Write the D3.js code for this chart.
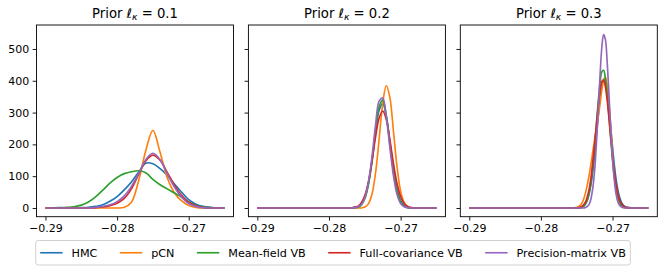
<!DOCTYPE html>
<html>
<head>
<meta charset="utf-8">
<script src="https://cdn.jsdelivr.net/npm/d3@7"></script>
<style>
	body { margin: 0; background: #fff; }
	svg { font-family: "DejaVu Sans", sans-serif; }
</style>
</head>
<body>
<script>
"use strict"

// ---- data ----
const seriesNames = ['HMC', 'pCN', 'Mean-field VB', 'Full-covariance VB', 'Precision-matrix VB'];
const seriesColors = ['#1f77b4', '#ff7f0e', '#2ca02c', '#d62728', '#9467bd'];
const priorLengths = ['0.1', '0.2', '0.3'];
const xTicks = [-0.29, -0.28, -0.27];
const yTicks = [0, 100, 200, 300, 400, 500];

// panel 1 (prior 0.1)
const gridP1 = [-0.29, -0.288, -0.287, -0.286, -0.285, -0.284, -0.283, -0.282, -0.281, -0.28, -0.279, -0.278, -0.277,
	-0.276, -0.275, -0.274, -0.273, -0.272, -0.271, -0.27, -0.269, -0.268, -0.267, -0.266, -0.265];
const hmcP1 = [0, 0, 0, 0, 1, 2, 5, 10, 21, 36, 57, 82, 112, 141, 139, 124, 103, 75, 50, 26, 12, 5, 2, 0, 0];
const pcnP1 = [0, 0, 0, 0, 0, 0, 0, 0, 0, 0, 2, 18, 85, 180, 244, 175, 95, 48, 22, 8, 2, 0, 0, 0, 0];
const mfP1 = [0, 1, 2, 4, 9, 19, 35, 56, 78, 96, 108, 114, 117, 111, 90, 73, 60, 47, 34, 19, 8, 3, 1, 0, 0];
const fcP1 = [0, 0, 0, 0, 0, 0, 1, 3, 7, 15, 30, 60, 105, 148, 166, 150, 112, 72, 40, 18, 7, 2, 0, 0, 0];
const pmP1 = [0, 0, 0, 0, 0, 0, 2, 5, 10, 20, 38, 68, 108, 152, 172, 152, 108, 66, 34, 14, 5, 1, 0, 0, 0];

// panel 2 (prior 0.2)
const gridP2 = [-0.29, -0.2775, -0.277, -0.2765, -0.276, -0.2755, -0.275, -0.2745, -0.274, -0.2735, -0.273, -0.2725,
	-0.272, -0.2715, -0.271, -0.2705, -0.27, -0.2695, -0.269, -0.2685, -0.268, -0.2675, -0.265];
const hmcP2 = [0, 0, 0, 1, 3, 11, 32, 77, 147, 236, 307, 329, 288, 208, 122, 58, 23, 8, 2, 0, 0, 0, 0];
const pcnP2 = [0, 0, 0, 0, 0, 0, 3, 13, 43, 110, 217, 329, 385, 347, 241, 129, 53, 17, 4, 1, 0, 0, 0];
const mfP2 = [0, 0, 0, 1, 2, 9, 29, 72, 146, 241, 318, 339, 291, 202, 114, 52, 19, 5, 1, 0, 0, 0, 0];
const fcP2 = [0, 0, 0, 2, 5, 16, 39, 82, 148, 223, 283, 305, 278, 214, 140, 77, 36, 14, 5, 1, 0, 0, 0];
const pmP2 = [0, 0, 0, 1, 3, 10, 32, 80, 161, 261, 336, 346, 286, 190, 101, 42, 14, 4, 1, 0, 0, 0, 0];

// panel 3 (prior 0.3)
const gridP3 = [-0.29, -0.277, -0.2755, -0.27525, -0.275, -0.27475, -0.2745, -0.27425, -0.274, -0.27375, -0.2735,
	-0.27325, -0.273, -0.27275, -0.2725, -0.27225, -0.272, -0.27175, -0.2715, -0.27125, -0.271, -0.27075, -0.2705,
	-0.27025, -0.27, -0.26975, -0.2695, -0.26925, -0.269, -0.26875, -0.2685, -0.26825, -0.268, -0.267, -0.265];
const hmcP3 = [0, 0, 0, 0, 0, 1, 1, 3, 7, 14, 26, 46, 75, 116, 167, 228, 289, 346, 386, 405, 397, 364, 315, 253, 192,
	135, 90, 56, 33, 18, 9, 4, 2, 0, 0];
const pcnP3 = [0, 0, 0, 1, 2, 4, 8, 16, 30, 50, 75, 105, 140, 178, 215, 248, 285, 325, 370, 400, 412, 385, 330, 255,
	170, 105, 60, 32, 15, 7, 3, 1, 0, 0, 0];
const mfP3 = [0, 0, 0, 0, 0, 0, 1, 3, 6, 14, 27, 49, 83, 133, 194, 264, 333, 392, 428, 433, 408, 357, 290, 217, 152,
	99, 60, 34, 18, 9, 4, 2, 1, 0, 0];
const fcP3 = [0, 0, 0, 0, 0, 1, 2, 5, 11, 20, 37, 61, 97, 145, 201, 262, 320, 369, 397, 402, 381, 339, 283, 222, 164,
	112, 73, 44, 25, 13, 7, 3, 1, 0, 0];
const pmP3 = [0, 0, 0, 0, 0, 0, 0, 0, 0, 2, 5, 12, 30, 63, 118, 202, 305, 413, 503, 545, 530, 460, 358, 250, 155, 87,
	43, 19, 8, 3, 1, 0, 0, 0, 0];

const panels = [
	{ grid: gridP1, series: [hmcP1, pcnP1, mfP1, fcP1, pmP1] },
	{ grid: gridP2, series: [hmcP2, pcnP2, mfP2, fcP2, pmP2] },
	{ grid: gridP3, series: [hmcP3, pcnP3, mfP3, fcP3, pmP3] }
];

// ---- layout ----
const w = 665;
const h = 270;
const marginLeft = 36.5;
const marginTop = 25;
const panelW = 197;
const panelH = 191.7;
const gap = 14.9;
const fontSize = 11;
const legendFont = 11.2;

const mySvg = d3.select('body')
	.append('svg')
	.attr('width', w)
	.attr('height', h);

const xScale = d3.scaleLinear()
	.domain([-0.29125, -0.26375])
	.range([0, panelW]);

const yScale = d3.scaleLinear()
	.domain([-27.4, 575.4])
	.range([panelH, 0]);

const line = d3.line()
	.x((d) => xScale(d[0]))
	.y((d) => yScale(d[1]))
	.curve(d3.curveCatmullRom.alpha(0.5));

panels.forEach((p, i) => drawPanel(p, i));
drawLegend();

function drawPanel(p, i) {
	const g = mySvg.append('g')
		.attr('transform', 'translate(' + (marginLeft + i * (panelW + gap)) + ', ' + marginTop + ')');

	const xAxis = d3.axisBottom(xScale)
		.tickValues(xTicks)
		.tickFormat(d3.format('.2f'))
		.tickSize(3.85)
		.tickPadding(3.3);

	const yAxis = d3.axisLeft(yScale)
		.tickValues(yTicks)
		.tickSize(3.85)
		.tickPadding(3.5)
		.tickFormat(i === 0 ? d3.format('d') : () => '');

	g.append('g')
		.attr('transform', 'translate(0, ' + panelH + ')')
		.call(xAxis);

	g.append('g')
		.call(yAxis);

	g.selectAll('.domain').remove();
	g.selectAll('.tick line').attr('stroke', '#000').attr('stroke-width', 0.9);
	g.selectAll('.tick text')
		.attr('fill', '#000')
		.style('font-size', fontSize + 'px')
		.style('font-family', '"DejaVu Sans", sans-serif');

	g.selectAll('path.curve')
		.data(p.series)
		.enter()
		.append('path')
		.attr('class', 'curve')
		.attr('d', (vals) => line(p.grid.map((x, k) => [x, vals[k]])))
		.attr('fill', 'none')
		.attr('stroke', (d, k) => seriesColors[k])
		.attr('stroke-width', 1.65)
		.attr('stroke-linejoin', 'round');

	g.append('rect')
		.attr('width', panelW)
		.attr('height', panelH)
		.attr('fill', 'none')
		.attr('stroke', '#000')
		.attr('stroke-width', 0.9);

	// title: Prior ℓ_κ = value
	const title = g.append('text')
		.attr('x', panelW / 2)
		.attr('y', -7.5)
		.attr('text-anchor', 'middle')
		.style('font-size', '13.2px')
		.attr('fill', '#000');
	title.append('tspan').text('Prior ');
	title.append('tspan').style('font-style', 'italic').text('ℓ');
	title.append('tspan')
		.style('font-style', 'italic')
		.style('font-size', '9.2px')
		.attr('dy', 2.6)
		.text('κ');
	title.append('tspan')
		.attr('dy', -2.6)
		.text(' = ' + priorLengths[i]);
}

function drawLegend() {
	const handleLen = 2 * legendFont;
	const handlePad = 0.8 * legendFont;
	const colSpace = 2 * legendFont;
	const borderPad = 0.4 * legendFont;
	const boxTop = 240.5;
	const boxH = 24.5;
	const midY = boxTop + boxH / 2;

	const lg = mySvg.append('g');
	const box = lg.append('rect');

	// measure labels first
	const labels = lg.selectAll('text')
		.data(seriesNames)
		.enter()
		.append('text')
		.style('font-size', legendFont + 'px')
		.attr('fill', '#000')
		.text((d) => d);

	const widths = [];
	labels.each(function () { widths.push(this.getComputedTextLength()); });

	const total = d3.sum(widths) + seriesNames.length * (handleLen + handlePad)
		+ (seriesNames.length - 1) * colSpace + 2 * borderPad;
	const x0 = w / 2 - total / 2 + 0.5;

	let cx = x0 + borderPad;
	seriesNames.forEach((name, k) => {
		lg.append('line')
			.attr('x1', cx)
			.attr('x2', cx + handleLen)
			.attr('y1', midY)
			.attr('y2', midY)
			.attr('stroke', seriesColors[k])
			.attr('stroke-width', 1.65);
		d3.select(labels.nodes()[k])
			.attr('x', cx + handleLen + handlePad)
			.attr('y', midY + 4);
		cx += handleLen + handlePad + widths[k] + colSpace;
	});

	box.attr('x', x0)
		.attr('y', boxTop)
		.attr('width', total)
		.attr('height', boxH)
		.attr('rx', 2.5)
		.attr('fill', '#fff')
		.attr('fill-opacity', 0.8)
		.attr('stroke', '#cccccc')
		.attr('stroke-width', 0.9);
}
</script>
</body>
</html>
